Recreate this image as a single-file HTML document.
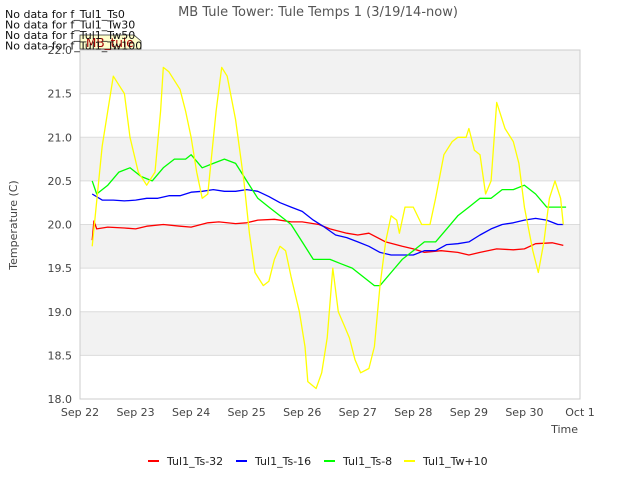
<!DOCTYPE html>
<html><head><meta charset="utf-8"><style>
body{margin:0;background:#fff;font-family:"Liberation Sans","DejaVu Sans",sans-serif}
svg text{font-family:"DejaVu Sans","Liberation Sans",sans-serif}
</style></head><body>
<svg id="c" width="640" height="480" xmlns="http://www.w3.org/2000/svg"></svg>
<script>
const xTicks=["Sep 22","Sep 23","Sep 24","Sep 25","Sep 26","Sep 27","Sep 28","Sep 29","Sep 30","Oct 1"];
const yTicks=[18.0,18.5,19.0,19.5,20.0,20.5,21.0,21.5,22.0];
const seriesNames=["Tul1_Ts-32","Tul1_Ts-16","Tul1_Ts-8","Tul1_Tw+10"];
const seriesColors=["#ff0000","#0000ff","#00ff00","#ffff00"];
const redX=[0.22,0.25,0.3,0.5,0.8,1.0,1.2,1.5,1.8,2.0,2.3,2.5,2.8,3.0,3.2,3.5,3.8,4.0,4.3,4.5,4.8,5.0,5.2,5.5,5.8,6.0,6.2,6.5,6.8,7.0,7.2,7.5,7.8,8.0,8.2,8.5,8.7];
const redY=[19.82,20.04,19.95,19.97,19.96,19.95,19.98,20.0,19.98,19.97,20.02,20.03,20.01,20.02,20.05,20.06,20.03,20.03,20.0,19.95,19.9,19.88,19.9,19.8,19.75,19.72,19.68,19.7,19.68,19.65,19.68,19.72,19.71,19.72,19.78,19.79,19.76];
const blueX=[0.22,0.4,0.6,0.8,1.0,1.2,1.4,1.6,1.8,2.0,2.2,2.4,2.6,2.8,3.0,3.2,3.4,3.6,3.8,4.0,4.2,4.4,4.6,4.8,5.0,5.2,5.4,5.6,5.8,6.0,6.2,6.4,6.6,6.8,7.0,7.2,7.4,7.6,7.8,8.0,8.2,8.4,8.6,8.7];
const blueY=[20.35,20.28,20.28,20.27,20.28,20.3,20.3,20.33,20.33,20.37,20.38,20.4,20.38,20.38,20.4,20.38,20.32,20.25,20.2,20.15,20.05,19.97,19.88,19.85,19.8,19.75,19.68,19.65,19.65,19.65,19.7,19.7,19.77,19.78,19.8,19.88,19.95,20.0,20.02,20.05,20.07,20.05,20.0,20.0];
const greenX=[0.22,0.3,0.5,0.7,0.9,1.1,1.3,1.5,1.7,1.9,2.0,2.2,2.4,2.6,2.8,3.0,3.2,3.4,3.6,3.8,4.0,4.2,4.3,4.5,4.7,4.9,5.1,5.3,5.4,5.6,5.8,6.0,6.2,6.4,6.6,6.8,7.0,7.2,7.4,7.6,7.8,8.0,8.2,8.4,8.6,8.75];
const greenY=[20.5,20.35,20.45,20.6,20.65,20.55,20.5,20.65,20.75,20.75,20.8,20.65,20.7,20.75,20.7,20.5,20.3,20.2,20.1,20.0,19.8,19.6,19.6,19.6,19.55,19.5,19.4,19.3,19.3,19.45,19.6,19.7,19.8,19.8,19.95,20.1,20.2,20.3,20.3,20.4,20.4,20.45,20.35,20.2,20.2,20.2];
const yelX=[0.22,0.4,0.6,0.8,0.9,1.05,1.2,1.35,1.45,1.5,1.6,1.8,1.9,2.0,2.1,2.2,2.3,2.45,2.55,2.65,2.8,2.95,3.05,3.15,3.3,3.4,3.5,3.6,3.7,3.8,3.95,4.05,4.1,4.25,4.35,4.45,4.55,4.65,4.75,4.85,4.95,5.05,5.2,5.3,5.4,5.5,5.6,5.7,5.75,5.85,6.0,6.15,6.3,6.4,6.55,6.7,6.8,6.95,7.0,7.1,7.2,7.3,7.4,7.5,7.65,7.8,7.9,8.0,8.15,8.25,8.35,8.45,8.55,8.65,8.7];
const yelY=[19.75,20.9,21.7,21.5,21.0,20.6,20.45,20.6,21.3,21.8,21.75,21.55,21.3,21.0,20.6,20.3,20.35,21.3,21.8,21.7,21.2,20.5,19.9,19.45,19.3,19.35,19.6,19.75,19.7,19.4,19.0,18.6,18.2,18.12,18.3,18.7,19.5,19.0,18.85,18.7,18.45,18.3,18.35,18.6,19.3,19.8,20.1,20.05,19.9,20.2,20.2,20.0,20.0,20.3,20.8,20.95,21.0,21.0,21.1,20.85,20.8,20.35,20.5,21.4,21.1,20.95,20.7,20.2,19.7,19.45,19.8,20.3,20.5,20.3,20.0];
const NS="http://www.w3.org/2000/svg";
const svg=document.getElementById('c');
const L=80,R=580,T=50,B=399;
const xs=d=>L+(R-L)*d/9;
const ys=v=>B-(B-T)*(v-18)/4;
function mk(t,a,p){const e=document.createElementNS(NS,t);for(const k in a)e.setAttribute(k,a[k]);(p||svg).appendChild(e);return e;}
for(let i=0;i<4;i++){const b=mk('rect',{x:L,y:ys(19+i),width:R-L,height:ys(18)-ys(18.5),fill:'#f2f2f2'});

}
yTicks.forEach(v=>{const g=mk('line',{x1:L,x2:R,y1:ys(v),y2:ys(v),stroke:'#dcdcdc','stroke-width':1});


const t=mk('text',{x:L-8,y:ys(v)+4,'font-size':11,'text-anchor':'end',fill:'#444'});t.textContent=v.toFixed(1);

});
const fr=mk('rect',{x:L,y:T,width:R-L,height:B-T,fill:'none',stroke:'#ccc'});


xTicks.forEach((s,i)=>{const t=mk('text',{x:xs(i),y:B+17,'font-size':11,'text-anchor':'middle',fill:'#444'});t.textContent=s;

});
const data=[[redX,redY],[blueX,blueY],[greenX,greenY],[yelX,yelY]];
data.forEach((d,i)=>{const pts=d[0].map((x,j)=>xs(x).toFixed(1)+','+ys(d[1][j]).toFixed(1)).join(' ');
const p=mk('polyline',{points:pts,fill:'none',stroke:seriesColors[i],'stroke-width':1.3,'stroke-linejoin':'round'});

});
const lx=[148,236,324,404];
seriesNames.forEach((n,i)=>{const g=mk('g',{});


mk('line',{x1:lx[i],x2:lx[i]+11,y1:461,y2:461,stroke:seriesColors[i],'stroke-width':2},g);
const t=mk('text',{x:lx[i]+19,y:465,'font-size':11,fill:'#222'},g);t.textContent=n;});
function txt(s,a,name){const t=mk('text',a);t.textContent=s;

}
txt('MB Tule Tower: Tule Temps 1 (3/19/14-now)',{x:318,y:16,'font-size':13,'text-anchor':'middle',fill:'#555'},'chart-title');
txt('Time',{x:578,y:433,'font-size':11,'text-anchor':'end',fill:'#444'},'x-axis-title');
txt('Temperature (C)',{x:17,y:225,'font-size':11,'text-anchor':'middle',fill:'#444',transform:'rotate(-90 17 225)'},'y-axis-title');
const tag=mk('path',{d:'M80,35 H134 L141,41 V49 H80 Z',fill:'#ffffcc',stroke:'#333','stroke-width':0.8});


txt('MB_tule',{x:86,y:47,'font-size':12,fill:'#a00000'},'tooltip-label');
['No data for f_Tul1_Ts0','No data for f_Tul1_Tw30','No data for f_Tul1_Tw50','No data for f_Tul1_Tw100'].forEach((s,i)=>txt(s,{x:5,y:18+i*10.5,'font-size':11,fill:'#111'},'no-data-note'));
</script>
</body></html>
